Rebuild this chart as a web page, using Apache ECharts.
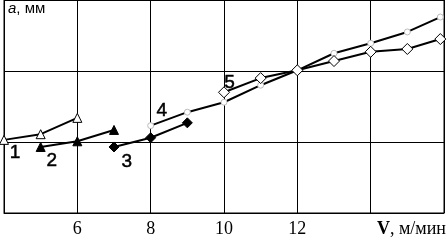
<!DOCTYPE html>
<html><head><meta charset="utf-8">
<script src="https://cdn.jsdelivr.net/npm/echarts@6/dist/echarts.min.js"></script>
<style>html,body{margin:0;padding:0;background:#fff}#c{width:447px;height:241px}</style>
</head><body><div id="c"></div>
<script>
const xTicks = [6, 8, 10, 12];
const s1x = [4, 5, 6];        const s1y = [1.03, 1.11, 1.34];
const s2x = [5, 6, 7];        const s2y = [0.93, 1.01, 1.17];
const s3x = [7, 8, 9];        const s3y = [0.93, 1.06, 1.27];
const s4x = [8, 9, 10, 11, 12, 13, 14, 15, 15.9];
const s4y = [1.23, 1.42, 1.56, 1.80, 2.01, 2.25, 2.39, 2.55, 2.76];
const s5x = [10, 11, 12, 13, 14, 15, 15.9];
const s5y = [1.70, 1.90, 2.01, 2.14, 2.27, 2.31, 2.45];
const curveLabels = ['1', '2', '3', '4', '5'];
const labelPos = [[4.3, 0.85], [5.3, 0.74], [7.35, 0.72], [8.3, 1.44], [10.15, 1.84]];
const yLabelVar = 'a';
const yLabelUnit = ', мм';
const xLabelBold = 'V';
const xLabelRest = ', м/мин';

const zip = (xs, ys) => xs.map((x, i) => [x, ys[i]]);
const chart = echarts.init(document.getElementById('c'), null, {renderer: 'canvas'});
const lineBase = {type: 'line', symbolKeepAspect: true, lineStyle: {color: '#000', width: 2}, animation: false, z: 3};
chart.setOption({
  animation: false,
  grid: {left: 4, right: 1, top: 0, bottom: 28, show: true, borderColor: '#000', borderWidth: 1},
  xAxis: {
    type: 'value', min: 4, max: 16, interval: 2,
    axisLine: {show: true, lineStyle: {color: '#000', width: 1}},
    axisTick: {show: false},
    splitLine: {show: true, lineStyle: {color: '#000', width: 1}},
    axisLabel: {
      color: '#000', fontFamily: 'Liberation Serif', fontSize: 18, margin: 7,
      formatter: v => xTicks.includes(v) ? String(v) : ''
    }
  },
  yAxis: {
    type: 'value', min: 0, max: 3, interval: 1,
    axisLine: {show: true, lineStyle: {color: '#000', width: 1}},
    axisTick: {show: false}, axisLabel: {show: false},
    splitLine: {show: true, lineStyle: {color: '#000', width: 1}}
  },
  series: [
    Object.assign({}, lineBase, {data: zip(s1x, s1y), symbol: 'triangle', symbolSize: 9,
      itemStyle: {color: '#fff', borderColor: '#000', borderWidth: 1}}),
    Object.assign({}, lineBase, {data: zip(s2x, s2y), symbol: 'triangle', symbolSize: 9,
      itemStyle: {color: '#000', borderColor: '#000', borderWidth: 1}}),
    Object.assign({}, lineBase, {data: zip(s3x, s3y), symbol: 'diamond', symbolSize: 10,
      itemStyle: {color: '#000', borderColor: '#000', borderWidth: 1}}),
    Object.assign({}, lineBase, {data: zip(s4x, s4y), symbol: 'circle', symbolSize: 6,
      itemStyle: {color: '#fff', borderColor: '#bbb', borderWidth: 1}}),
    Object.assign({}, lineBase, {data: zip(s5x, s5y), symbol: 'diamond', symbolSize: 11,
      itemStyle: {color: '#fff', borderColor: '#000', borderWidth: 1}}),
    {type: 'scatter', symbolSize: 0, z: 5, silent: true,
      itemStyle: {opacity: 1, color: '#000'},
      data: labelPos.map((p, i) => ({value: p, name: curveLabels[i]})),
      label: {show: true, position: 'inside', formatter: p => p.name, opacity: 1,
        color: '#000', fontFamily: 'Liberation Sans', fontSize: 19,
        textBorderColor: '#000', textBorderWidth: 0.5}}
  ],
  graphic: [
    {type: 'text', left: 8, top: 1, style: {
      text: '{i|' + yLabelVar + '}{u|' + yLabelUnit + '}',
      rich: {i: {fontFamily: 'Liberation Sans', fontStyle: 'italic', fontSize: 15, fill: '#000'},
             u: {fontFamily: 'Liberation Sans', fontSize: 15, fill: '#000'}}}},
    {type: 'text', right: 1, top: 220, style: {
      text: '{b|' + xLabelBold + '}{r|' + xLabelRest + '}',
      rich: {b: {fontFamily: 'Liberation Serif', fontWeight: 'bold', fontSize: 18, fill: '#000'},
             r: {fontFamily: 'Liberation Serif', fontSize: 18, fill: '#000'}}}}
  ]
});
</script></body></html>
